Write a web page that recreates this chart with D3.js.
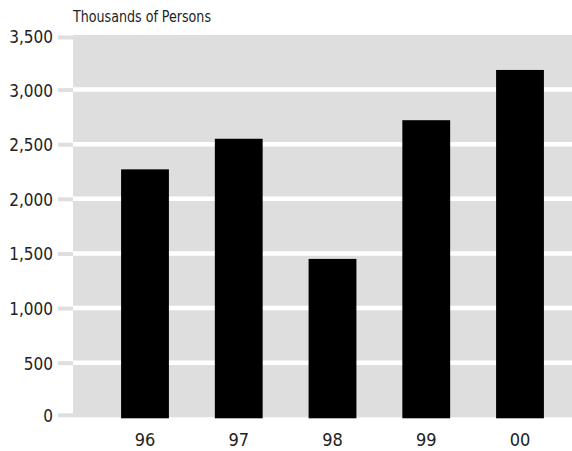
<!DOCTYPE html>
<html><head><meta charset="utf-8">
<script src="https://cdn.jsdelivr.net/npm/d3@7"></script>
<style>body{margin:0;background:#fff}svg{display:block}</style>
</head><body>
<svg id="c" width="572" height="451"></svg>
<script>
const categories = ["96","97","98","99","00"];
const values = [2270, 2550, 1450, 2720, 3180];
const yTicks = [0, 500, 1000, 1500, 2000, 2500, 3000, 3500];
const unitLabel = "Thousands of Persons";

const W = 572, H = 451;
const mLeft = 73, mTop = 35, mBottom = 417.3;
const FONT = "'DejaVu Sans Condensed','DejaVu Sans',sans-serif";
const svg = d3.select("#c");

const y = d3.scaleLinear().domain([0, 3500]).range([mBottom, mTop]);
const x = d3.scaleBand().domain(categories).range([mLeft, 592]).paddingInner(0.49).paddingOuter(0.513);

// panel
svg.append("rect").attr("x", mLeft).attr("y", y(3500)).attr("width", W - mLeft).attr("height", y(0) - y(3500)).attr("fill", "#dedede");

// gridlines
svg.append("g").selectAll("line").data(yTicks.filter(d => d > 0 && d < 3500)).join("line")
  .attr("x1", mLeft).attr("x2", W).attr("y1", d => y(d)).attr("y2", d => y(d))
  .attr("stroke", "#fff").attr("stroke-width", 4.5);

// y axis
const yAxis = d3.axisLeft(y).tickValues(yTicks).tickSize(15).tickPadding(5).tickFormat(d3.format(","));
const ga = svg.append("g").attr("transform", `translate(${mLeft},0)`).call(yAxis);
ga.select(".domain").remove();
ga.selectAll(".tick line").attr("stroke", "#dedede").attr("stroke-width", 4)
  .attr("transform", d => d === 0 ? "translate(0,-2.5)" : d === 3500 ? "translate(0,2)" : null);
ga.selectAll(".tick text").attr("font-family", FONT).attr("font-size", 17).attr("fill", "#222")
  .attr("dy", null).attr("y", d => d === 0 ? 4 : d === 3500 ? 7.5 : 6.5);

// bars
svg.append("g").selectAll("rect").data(values).join("rect")
  .attr("x", (d, i) => x(categories[i])).attr("width", x.bandwidth())
  .attr("y", d => y(d)).attr("height", d => y(0) - y(d) + 1).attr("fill", "#000");

// x axis
const xAxis = d3.axisBottom(x).tickSize(0).tickPadding(0);
const gx = svg.append("g").attr("transform", `translate(0,${mBottom})`).call(xAxis);
gx.select(".domain").remove();
gx.selectAll(".tick text").attr("font-family", FONT).attr("font-size", 18).attr("fill", "#222")
  .attr("dy", null).attr("y", 29);

// unit label
svg.append("text").attr("x", mLeft).attr("y", 21.5).attr("font-family", FONT).attr("font-size", 16)
  .attr("textLength", 138).attr("lengthAdjust", "spacingAndGlyphs")
  .attr("fill", "#222").text(unitLabel);
</script>
</body></html>
